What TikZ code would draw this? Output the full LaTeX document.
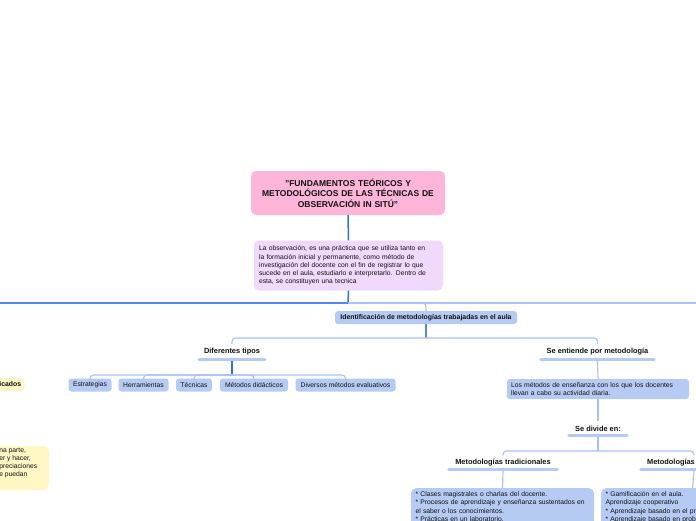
\documentclass[tikz,border=0pt]{standalone}
\usepackage{fontspec}
\setmainfont{Liberation Sans}
\definecolor{pinkfill}{HTML}{FFB5D8}
\definecolor{lavfill}{HTML}{F0D9FC}
\definecolor{bluefill}{HTML}{B6CBF3}
\definecolor{yelfill}{HTML}{FFF7C4}
\definecolor{darkline}{HTML}{2F6FEB}
\definecolor{midline}{HTML}{5586F0}
\definecolor{lightline}{HTML}{A9C2F5}
\definecolor{txt}{HTML}{111111}
\begin{document}
\begin{tikzpicture}[x=1pt,y=-1pt,
  every node/.style={text=txt},
  smallfont/.style={font=\fontsize{6.75}{8.2}\selectfont},
  boldsmall/.style={font=\fontsize{6.9}{8.2}\selectfont\bfseries},
  boldlabel/.style={font=\fontsize{7.4}{8.2}\selectfont\bfseries},
  titlebox/.style={fill=pinkfill, rounded corners=5pt, minimum width=194pt, minimum height=44pt,
     text width=186pt, inner xsep=4pt, align=center, font=\fontsize{8.5}{10.5}\selectfont\bfseries},
  obsbox/.style={fill=lavfill, rounded corners=5pt, minimum width=189pt, minimum height=50pt,
     text width=179pt, inner xsep=5pt, align=left, smallfont},
  bluebox/.style={fill=bluefill, rounded corners=3pt, minimum height=13pt, inner xsep=0pt, inner ysep=0pt, smallfont},
  textbox/.style={fill=bluefill, rounded corners=5pt, inner xsep=4.5pt, inner ysep=3.5pt, align=left, smallfont, anchor=north},
  yelbox/.style={fill=yelfill, rounded corners=5pt, inner sep=0pt},
  lbl/.style={boldlabel, inner sep=0pt, minimum height=15pt},
  bar/.style={draw=bluefill, line width=3pt, line cap=round},
  dk/.style={draw=darkline, line width=1.5pt},
  md/.style={draw=midline, line width=1.2pt},
  lt/.style={draw=lightline, line width=1.1pt},
  rc/.style={rounded corners=3.5pt}
]
\useasboundingbox (0,0) rectangle (696,520);
\clip (0,0) rectangle (696,520);
\fill[white] (0,0) rectangle (696,520);

% main nodes
\node[titlebox] (title) at (348,193) {"FUNDAMENTOS TEÓRICOS Y\\METODOLÓGICOS DE LAS TÉCNICAS DE\\OBSERVACIÓN IN SITÚ"};
\node[obsbox] (obs) at (348.5,265.5) {La observación, es una práctica que se utiliza tanto en\\la formación inicial y permanente, como método de\\investigación del docente con el fin de registrar lo que\\sucede en el aula, estudiarlo e interpretarlo. Dentro de\\esta, se constituyen una tecnica};

\node[bluebox, minimum width=182pt, boldsmall] (ident) at (426,317.5) {Identificación de metodologías trabajadas en el aula};

\node[lbl, minimum width=66pt] (dif) at (232,351.5) {Diferentes tipos};
\node[lbl, minimum width=113pt] (se) at (597.5,351.5) {Se entiende por metodología};

\node[bluebox, minimum width=43pt] (estr) at (90,385) {Estrategias};
\node[bluebox, minimum width=50pt] (herr) at (143.5,385) {Herramientas};
\node[bluebox, minimum width=36pt] (tec) at (194,385) {Técnicas};
\node[bluebox, minimum width=68pt] (met) at (254,385) {Métodos didácticos};
\node[bluebox, minimum width=100pt] (dive) at (345.5,385) {Diversos métodos evaluativos};

\node[bluebox, minimum width=182pt, minimum height=20pt, text width=174pt, align=left, inner xsep=4pt] (expl) at (598,389) {Los métodos de enseñanza con los que los docentes\\llevan a cabo su actividad diaria.};

\node[lbl, minimum width=58pt, minimum height=14pt] (div) at (598,428.5) {Se divide en:};
\node[lbl, minimum width=108pt, minimum height=14pt] (trad) at (503,462.5) {Metodologías tradicionales};
\node[lbl, minimum width=106pt, minimum height=14pt] (act) at (694,462.5) {Metodologías innovadoras};

\node[textbox, text width=174pt] (tradbox) at (502.5,488) {{*} Clases magistrales o charlas del docente.\\{*} Procesos de aprendizaje y enseñanza sustentados en\\el saber o los conocimientos.\\{*} Prácticas en un laboratorio.\\{*} Exámenes escritos.};
\node[textbox, text width=174pt] (actbox) at (692.5,488) {{*} Gamificación en el aula.\\Aprendizaje cooperativo\\{*} Aprendizaje basado en el proyecto\\{*} Aprendizaje basado en problemas};

% left cut-off yellow boxes
\node[yelbox, minimum width=38pt, minimum height=13pt, anchor=east] (yel1) at (25,384.5) {};
\node[boldsmall, inner sep=0pt, anchor=west] (yel1t) at (-0.8,384.5) {icados};
\node[yelbox, minimum width=62pt, minimum height=44pt, anchor=east] (yel2) at (49,468) {};
\node[smallfont, inner sep=0pt, anchor=north west, align=left] (yel2t) at (-0.9,447.5) {na parte,\\er y hacer,\\preciaciones\\e puedan};

% bars under text labels
\foreach \n in {dif,se,div,trad,act} \draw[bar] (\n.south west) -- (\n.south east);

% connectors
\coordinate (h0) at (348,303);
\coordinate (offL) at (-5,303);
\coordinate (offR) at (701,303);
\coordinate (h1) at (426,338);
\coordinate (h2) at (232,375);
\coordinate (h3) at (598,451);

\draw[dk] (title.south) -- (obs.north);
\draw[dk] (obs.south) -- (h0);
\draw[md] (h0) -- (offL);
\draw[lt] (h0) -- (offR);
\draw[lt, rc] (h0) -| (ident.north);

\draw[md] (ident.south) -- (h1);
\draw[lt, rc] (h1) -| (dif.north);
\draw[lt, rc] (h1) -| (se.north);

\draw[dk] ([yshift=-1.5pt]dif.south) -- (h2);
\foreach \n in {estr,herr,tec,met,dive} \draw[lt, rc] (h2) -| (\n.north);

\draw[lt] ([yshift=-1.5pt]se.south) -- (expl.north);
\draw[lt] (expl.south) -- (div.north);
\draw[lt] ([yshift=-1.5pt]div.south) -- (h3);
\draw[lt, rc] (h3) -| (trad.north);
\draw[lt, rc] (h3) -| (act.north);
\draw[lt] ([yshift=-1.5pt]trad.south) -- (tradbox.north);
\draw[lt] ([yshift=-1.5pt]act.south) -- (actbox.north);
\end{tikzpicture}
\end{document}
